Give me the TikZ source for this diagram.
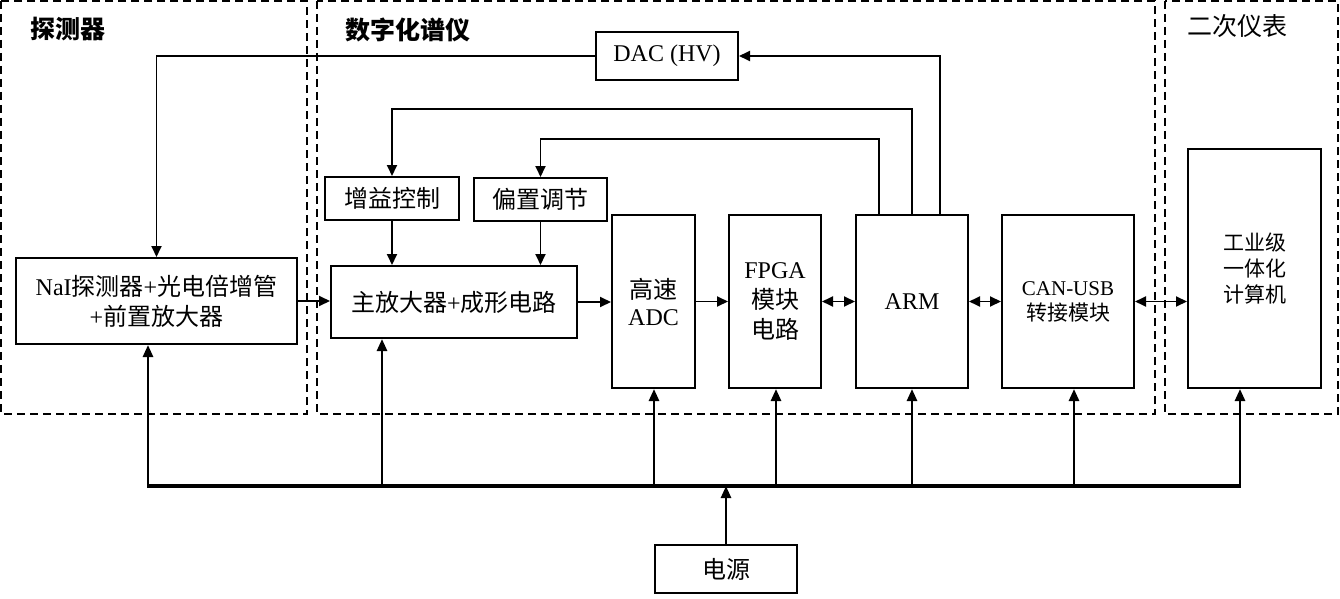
\documentclass[tikz,border=0pt]{standalone}
\usepackage{fontspec}
\setmainfont{Liberation Serif}
\newfontfamily\cjk{Noto Sans CJK SC}
\usetikzlibrary{arrows.meta}
\newcommand{\zh}[1]{{\cjk #1}}
\tikzset{
    box/.style={draw, line width=2pt, inner sep=0pt, align=center, font=\fontsize{24}{30}\selectfont},
    arr/.style={line width=1.9pt, -{Triangle[length=11pt,width=10pt]}},
    dblarr/.style={line width=1.9pt, {Triangle[length=11pt,width=10pt]}-{Triangle[length=11pt,width=10pt]}},
    pwr/.style={line width=2.6pt, -{Triangle[length=12pt,width=10pt]}},
    region/.style={line width=1.8pt, dash pattern=on 8pt off 5pt},
    title/.style={font=\fontsize{25}{25}\selectfont\cjk},
    titlebf/.style={font=\fontsize{25}{25}\selectfont\cjk\bfseries}
}
\begin{document}
\begin{tikzpicture}[x=1pt,y=-1pt]
            \useasboundingbox (0,0) rectangle (1340,599);
            % dashed regions
            \draw[region] (1,1) rectangle (307,414);
            \draw[region] (317,1) rectangle (1155,414);
            \draw[region] (1165,1) rectangle (1338,414);
            \node[titlebf] at (68,29) {探测器};
            \node[titlebf] at (408,30) {数字化谱仪};
            \node[title] at (1237,26) {二次仪表};
            % blocks
            \node[box, minimum width=281pt, minimum height=86pt] (nai) at (156.5,301) {NaI\zh{探测器}+\zh{光电倍增管}\\+\zh{前置放大器}};
            \node[box, minimum width=134pt, minimum height=43pt] (gain) at (392,198.5) {\zh{增益控制}};
            \node[box, minimum width=133pt, minimum height=43pt] (bias) at (540.5,199.5) {\zh{偏置调节}};
            \node[box, minimum width=246pt, minimum height=72pt] (amp) at (454,302) {\zh{主放大器}+\zh{成形电路}};
            \node[box, minimum width=83pt, minimum height=173pt, font=\fontsize{24}{27}\selectfont] (adc) at (653.5,301.5) {\zh{高速}\\ADC};
            \node[box, minimum width=92pt, minimum height=173pt] (fpga) at (775,301.5) {FPGA\\\zh{模块}\\\zh{电路}};
            \node[box, minimum width=112pt, minimum height=173pt] (arm) at (912,301.5) {ARM};
            \node[box, minimum width=132pt, minimum height=173pt, font=\fontsize{21}{25}\selectfont] (can) at (1068,301.5) {CAN-USB\\\zh{转接模块}};
            \node[box, minimum width=133pt, minimum height=239pt, font=\fontsize{21}{26}\selectfont] (pc) at (1254.5,268.5) {\zh{工业级}\\\zh{一体化}\\\zh{计算机}};
            \node[box, minimum width=142pt, minimum height=48pt] (dac) at (667,56) {DAC (HV)};
            \node[box, minimum width=142pt, minimum height=48pt] (power) at (726,569) {\zh{电源}};
            % signal path
            \draw[arr] (nai.east) -- (nai.east -| amp.west);
            \draw[arr] (amp.east) -- (amp.east -| adc.west);
            \draw[arr] (adc.east) -- (adc.east -| fpga.west);
            \draw[dblarr] (fpga.east) -- (arm.west);
            \draw[dblarr] (arm.east) -- (can.west);
            \draw[dblarr] (can.east) -- (can.east -| pc.west);
            \draw[arr] (gain.south) -- (gain.south |- amp.north);
            \draw[arr] (bias.south) -- (bias.south |- amp.north);
            % control lines from ARM
            \draw[arr] ([xshift=28pt]arm.north) |- (dac.east);
            \draw[arr] (arm.north) -- ++(0,-105) -| (gain.north);
            \draw[arr] ([xshift=-33pt]arm.north) -- ++(0,-75) -| (bias.north);
            \draw[arr] (dac.west) -| (nai.north);
            % power bus
            \coordinate (bus) at (0,486);
            \draw[line width=3.2pt] ([xshift=-9.5pt]nai.south |- bus) -- ([xshift=-13.5pt]pc.south |- bus);
            \draw[pwr] (power.north) -- (power.north |- bus);
            \draw[pwr] ([xshift=-8.5pt]nai.south |- bus) -- ([xshift=-8.5pt]nai.south);
            \draw[pwr] ([xshift=-72pt]amp.south |- bus) -- ([xshift=-72pt]amp.south);
            \foreach \n/\dx in {adc/0.5,fpga/1,arm/0,can/6,pc/-14.5} {
                \draw[pwr] ([xshift=\dx pt]\n.south |- bus) -- ([xshift=\dx pt]\n.south);
            }
\end{tikzpicture}
\end{document}
